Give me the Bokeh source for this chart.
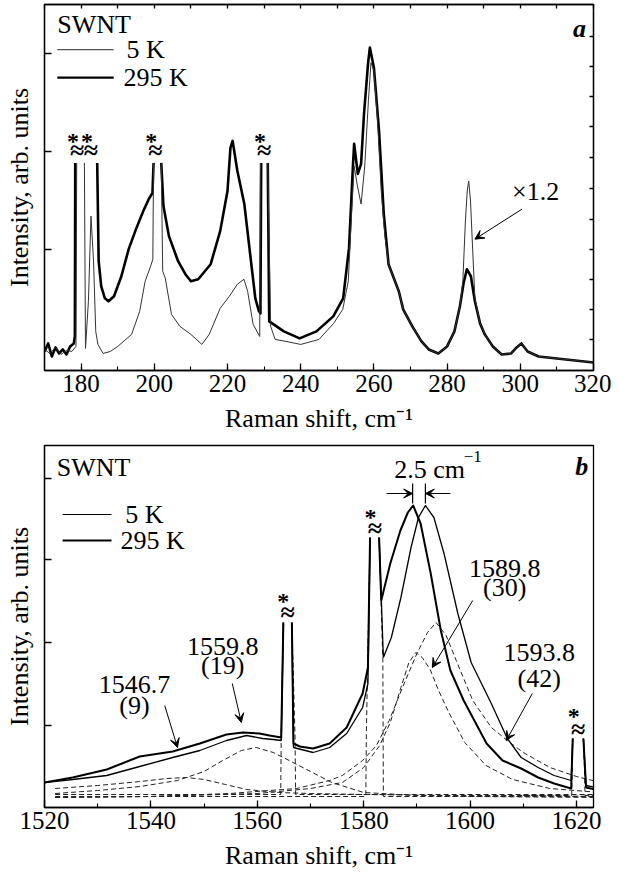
from bokeh.plotting import figure
from bokeh.models import Range1d, LinearAxis, FixedTicker, SingleIntervalTicker, Label, Arrow, VeeHead
from bokeh.layouts import column
from bokeh.embed import file_html
from bokeh.resources import INLINE

nan = float("nan")
FONT = "Liberation Serif"

# ---------------- Panel a : RBM region (arb. units) ----------------
a_x_295 = [170.0, 171.0, 172.0, 173.0, 174.0, 175.0, 176.0, 177.0, 178.0, 178.3, 178.4, nan,
           184.4, 184.8, 185.5, 186.5, 187.5, 189.0, 191.0, 193.0, 195.0, 197.0, 198.5, 199.5, 199.8, nan,
           201.9, 202.5, 204.0, 206.5, 208.5, 210.0, 212.0, 215.4, 218.0, 220.0, 220.8, 221.4, 222.7,
           224.6, 226.0, 227.6, 228.6, 229.0, 229.2, nan,
           231.0, 231.4, 235.4, 239.7, 244.3, 248.9, 251.6, 253.2, 254.3, 254.6, 255.6, 256.5, 257.3,
           258.4, 258.9, 260.0, 261.4, 262.7, 264.0, 266.8, 268.0, 270.5, 273.0, 275.0, 277.6, 280.0,
           282.0, 283.5, 284.5, 285.4, 286.5, 287.6, 289.0, 290.3, 292.5, 294.9, 297.5, 299.0, 300.3,
           302.0, 305.0, 310.0, 315.0, 320.0]
a_y_295 = [20, 28, 15, 24, 18, 22, 17, 25, 28, 35, 208, nan,
           208, 110, 85, 73, 70, 75, 95, 122, 142, 160, 172, 178, 208, nan,
           208, 165, 135, 110, 97, 90, 92, 107, 140, 180, 223, 230, 200,
           167, 123, 73, 60, 58, 208, nan,
           208, 50, 40, 33, 40, 55, 73, 123, 207, 227, 197, 207, 257,
           307, 323, 303, 240, 157, 107, 80, 62, 45, 30, 22, 18, 25,
           40, 65, 88, 102, 95, 70, 48, 37, 25, 17, 18, 24, 28,
           20, 15, 13, 11, 9]

a_x_5 = [170.0, 171.5, 173.0, 174.5, 176.0, 177.5, 178.6, 178.8, nan,
         180.9, 181.2, 182.0, 182.7, 183.4, 184.0, 184.6, 186.0, 188.0, 190.0, 193.8, 196.0, 197.5,
         199.0, 199.6, 199.8, nan,
         201.9, 202.3, 203.0, 204.7, 207.0, 210.0, 213.0, 215.0, 218.0, 220.5, 222.7, 224.5, 225.5,
         227.0, 228.8, 229.0, nan,
         231.0, 231.8, 233.0, 236.0, 240.0, 245.0, 249.0, 251.5, 253.0, 253.8, 254.6, 255.5, 256.5,
         257.5, 258.5, 259.2, 260.0, 261.0, 262.0, 263.0, 264.0, 266.8, 268.0, 270.5, 273.0, 275.0,
         277.6, 280.0, 282.0, 283.5, 284.3, 285.0, 285.5, 285.9, 286.4, 287.0, 287.6, 289.0, 290.3,
         292.5, 294.9, 297.5, 299.0, 300.3, 302.0, 305.0, 310.0, 315.0, 320.0]
a_y_5 = [22, 18, 24, 17, 21, 20, 25, 208, nan,
         208, 23, 70, 155, 110, 40, 27, 18, 20, 25, 37, 60, 90,
         105, 112, 208, nan,
         208, 100, 93, 57, 45, 37, 27, 37, 63, 75, 87, 92, 80,
         47, 35, 208, nan,
         208, 45, 32, 30, 27, 32, 48, 62, 90, 150, 205, 185, 167,
         205, 270, 308, 300, 250, 180, 135, 107, 80, 62, 45, 30, 22,
         18, 25, 40, 65, 90, 150, 180, 190, 170, 120, 73, 48, 37,
         25, 17, 18, 24, 28, 20, 15, 13, 11, 9]

a_left_ticks = [122, 219, 317]
a_right_ticks = [32, 62, 92, 122, 152, 183, 213, 244, 274, 304, 334]
a_break_x = [178.9, 182.7, 200.3, 230.0]
a_star_x = [177.8, 181.6, 199.2, 228.9]
a_approx_y = 220
a_star_y = 230

# ---------------- Panel b : G band region ----------------
b_x_295 = [1520.0, 1525.3, 1531.7, 1537.9, 1544.1, 1549.2, 1554.2, 1557.3, 1560.4, 1562.3, 1564.5,
           1564.9, nan, 1566.5, 1566.8, 1568.0, 1570.5, 1573.6, 1576.8, 1579.8, 1580.8, 1581.2, nan,
           1582.9, 1583.3, 1585.0, 1586.9, 1588.3, 1589.3, 1590.7, 1592.6, 1594.5, 1596.3, 1598.8,
           1600.5, 1603.1, 1606.1, 1609.6, 1612.8, 1615.8, 1619.0, 1619.3, nan, 1621.3, 1621.8, 1624.5]
b_y_295 = [25, 30, 38, 51, 56, 64, 73, 75, 74, 72, 70,
           185, nan, 185, 64, 61, 59, 64, 80, 114, 140, 270, nan,
           270, 207, 244, 277, 295, 302, 284, 234, 177, 137, 107,
           90, 64, 47, 39, 30, 24, 19, 69, nan, 69, 20, 17]

b_x_5 = [1520.0, 1525.3, 1531.7, 1537.9, 1544.1, 1549.2, 1554.2, 1558.0, 1561.0, 1563.0, 1564.5,
         1564.9, nan, 1566.5, 1566.8, 1570.5, 1573.6, 1576.8, 1579.8, 1580.8, 1581.2, nan,
         1582.9, 1583.7, 1585.2, 1587.0, 1588.9, 1590.3, 1591.6, 1593.2, 1595.1, 1597.7, 1600.2,
         1603.9, 1607.0, 1609.6, 1612.8, 1615.8, 1619.0, 1619.3, nan, 1621.3, 1621.8, 1624.5]
b_y_5 = [25, 28, 32, 41, 50, 57, 67, 72, 69, 68, 67,
         185, nan, 185, 60, 55, 60, 74, 100, 124, 270, nan,
         270, 150, 170, 210, 260, 290, 302, 290, 254, 194, 145,
         105, 69, 50, 40, 32, 27, 69, nan, 69, 22, 19]

# fitted components (dashed)
fitA_x = [1522, 1530, 1538, 1543, 1546.7, 1550, 1554, 1558, 1564, 1570, 1580, 1595, 1610, 1624.5]
fitA_y = [19, 22, 26, 29, 30, 28, 23, 18, 15, 14, 13, 12, 12, 11]
fitB_x = [1522, 1530, 1538, 1545, 1550, 1553.5, 1557, 1559.8, 1563, 1566, 1570, 1574, 1580, 1590, 1600, 1624.5]
fitB_y = [14, 17, 21, 27, 36, 47, 57, 60, 55, 47, 36, 25, 15, 12, 11, 10]
fitC_x = [1522, 1540, 1560, 1570, 1576, 1580, 1583, 1585, 1587, 1588.5, 1589.8, 1591, 1592.5, 1594,
          1596, 1599, 1603, 1608, 1615, 1624.5]
fitC_y = [10, 11, 14, 19, 25, 40, 62, 85, 120, 145, 155, 150, 138, 118, 95, 65, 42, 28, 19, 15]
fitD_x = [1522, 1540, 1554.8, 1567.4, 1573.6, 1576, 1579.8, 1582.4, 1584.8, 1587.3, 1590, 1592, 1593.6,
          1595.5, 1597.4, 1600.5, 1604, 1607, 1610, 1615, 1620, 1624.5]
fitD_y = [10, 11, 14, 19, 27, 32, 47, 62, 87, 120, 154, 175, 185, 172, 147, 107, 80, 67, 55, 40, 31, 25]
fitS1_x = [1522, 1564.4, 1564.5, 1564.9, nan, 1566.5, 1567.1, 1567.2, 1624.5]
fitS1_y = [13, 13, 70, 185, nan, 185, 70, 13, 13]
fitS2_x = [1522, 1580.4, 1580.5, 1581.2, nan, 1582.9, 1583.6, 1583.7, 1624.5]
fitS2_y = [11, 11, 74, 270, nan, 270, 147, 11, 11]
fitS3_x = [1610, 1619.1, 1619.2, 1619.3, nan, 1621.3, 1621.5, 1621.6, 1624.5]
fitS3_y = [12, 12, 40, 69, nan, 69, 40, 12, 12]

b_left_ticks = [82, 165, 248, 329]
b_break_x = [1565.7, 1582.1, 1620.3]
b_star_x = [1564.9, 1581.3, 1619.5]
b_approx_y = [195, 279, 78]
b_star_y = [207, 291, 92]

# peak labels: (text line 1, text line 2, x, y1, y2, arrow x0, y0, x1, y1)
b_peak_labels = [
    ("1546.7", "(9)", 1536.9, 123, 102, 1542.6, 102, 1545.0, 60),
    ("1559.8", "(19)", 1553.5, 161, 142, 1555.3, 124, 1557.0, 85),
    ("1589.8", "(30)", 1606.5, 239, 220, 1600.5, 207, 1592.9, 140),
    ("1593.8", "(42)", 1613.0, 155, 129, 1611.7, 114, 1606.8, 67),
]


def style_axis(ax, ticker, tick_in, minor_in=0, labels=True, label=None, label_standoff=9):
    ax.ticker = ticker
    ax.major_tick_in = tick_in
    ax.major_tick_out = 0
    ax.minor_tick_in = minor_in
    ax.minor_tick_out = 0
    ax.axis_line_color = "black"
    ax.axis_line_width = 1.3
    ax.major_tick_line_color = "black"
    ax.major_tick_line_width = 1.3
    ax.minor_tick_line_color = "black"
    ax.minor_tick_line_width = 1.1
    ax.major_label_text_line_height = 1.0
    ax.axis_label_text_line_height = 1.0
    if labels:
        ax.major_label_text_font = FONT
        ax.major_label_text_font_size = "25px"
        ax.major_label_text_color = "black"
        ax.major_label_standoff = 4
    else:
        ax.major_label_text_font_size = "0px"
        ax.major_label_text_color = None
        ax.major_label_standoff = 0
    if label:
        ax.axis_label = label
        ax.axis_label_text_font = FONT
        ax.axis_label_text_font_size = "26px"
        ax.axis_label_text_font_style = "normal"
        ax.axis_label_text_color = "black"
        ax.axis_label_standoff = label_standoff


def make_fig(x0, x1, y0, y1, height, top, bottom):
    p = figure(width=611, height=height, x_range=Range1d(x0, x1), y_range=Range1d(y0, y1),
               output_backend="svg", toolbar_location=None,
               min_border_left=44, min_border_right=18, min_border_top=top, min_border_bottom=bottom)
    p.grid.visible = False
    p.outline_line_color = "black"
    p.outline_line_width = 1.3
    p.background_fill_color = "white"
    p.border_fill_color = "white"
    return p


def txt(p, x, y, s, size="26px", style="normal", align="center", baseline="middle"):
    p.add_layout(Label(x=x, y=y, text=s, text_font=FONT, text_font_size=size,
                       text_font_style=style, text_align=align, text_baseline=baseline,
                       text_color="black"))


def arrow(p, x0, y0, x1, y1):
    p.add_layout(Arrow(end=VeeHead(size=9, fill_color="black", line_color="black", line_width=1),
                       x_start=x0, y_start=y0, x_end=x1, y_end=y1,
                       line_width=1, line_color="black"))


# ---------------- build panel a ----------------
pa = make_fig(170, 320, 1, 366, 436, 4, 66)
style_axis(pa.xaxis[0], SingleIntervalTicker(interval=20, num_minor_ticks=2), 7, 4,
           label="Raman shift, cm\u207b\u00b9")
style_axis(pa.yaxis[0], FixedTicker(ticks=a_left_ticks), 7, labels=False,
           label="Intensity, arb. units", label_standoff=11)
ax_top = LinearAxis()
style_axis(ax_top, SingleIntervalTicker(interval=10, num_minor_ticks=0), 4, labels=False)
pa.add_layout(ax_top, "above")
ax_right = LinearAxis()
style_axis(ax_right, FixedTicker(ticks=a_right_ticks), 4, labels=False)
pa.add_layout(ax_right, "right")

pa.line(a_x_295, a_y_295, line_color="black", line_width=2.6, line_join="round")
pa.line(a_x_5, a_y_5, line_color="#333333", line_width=1.0)

txt(pa, 173.5, 346, "SWNT", align="left")
pa.segment(x0=[173.5], y0=[321], x1=[188.9], y1=[321], line_color="#555555", line_width=1.2)
pa.segment(x0=[173.5], y0=[293], x1=[188.9], y1=[293], line_color="black", line_width=2.2)
txt(pa, 192.4, 321, "5 K", align="left")
txt(pa, 191.6, 293, "295 K", align="left")
txt(pa, 316.2, 342, "a", style="bold italic")
txt(pa, 304.2, 180, "\u00d71.2")
arrow(pa, 300.5, 162, 287.6, 132)
for bx, sx in zip(a_break_x, a_star_x):
    txt(pa, bx, a_approx_y, "\u2248", size="26px", style="bold")
    txt(pa, sx, a_star_y, "*", size="24px", style="bold")

# ---------------- build panel b ----------------
pb = make_fig(1520, 1623.2, 0, 362, 437, 9, 66)
style_axis(pb.xaxis[0], SingleIntervalTicker(interval=20, num_minor_ticks=2), 7, 4,
           label="Raman shift, cm\u207b\u00b9")
style_axis(pb.yaxis[0], FixedTicker(ticks=b_left_ticks), 7, labels=False,
           label="Intensity, arb. units", label_standoff=11)

dash = "5 3"
for fx, fy in [(fitA_x, fitA_y), (fitB_x, fitB_y), (fitC_x, fitC_y), (fitD_x, fitD_y),
               (fitS1_x, fitS1_y), (fitS2_x, fitS2_y), (fitS3_x, fitS3_y)]:
    pb.line(fx, fy, line_color="#222222", line_width=1.0, line_dash=dash)
pb.line(b_x_5, b_y_5, line_color="black", line_width=1.3)
pb.line(b_x_295, b_y_295, line_color="black", line_width=2.0, line_join="round")

txt(pb, 1522.3, 340, "SWNT", align="left")
pb.segment(x0=[1523.4], y0=[293], x1=[1532.6], y1=[293], line_color="black", line_width=1.0)
pb.segment(x0=[1523.4], y0=[267], x1=[1532.6], y1=[267], line_color="black", line_width=1.8)
txt(pb, 1535.2, 293, "5 K", align="left")
txt(pb, 1534.3, 267, "295 K", align="left")
txt(pb, 1621.0, 341, "b", style="bold italic")

for t1, t2, lx, ly1, ly2, ax0, ay0, ax1, ay1 in b_peak_labels:
    txt(pb, lx, ly1, t1)
    txt(pb, lx, ly2, t2)
    arrow(pb, ax0, ay0, ax1, ay1)

for bx, sx, ay, sy in zip(b_break_x, b_star_x, b_approx_y, b_star_y):
    txt(pb, bx, ay, "\u2248", size="26px", style="bold")
    txt(pb, sx, sy, "*", size="24px", style="bold")

# 2.5 cm-1 splitting marker
pb.segment(x0=[1589.2, 1591.6], y0=[304, 304], x1=[1589.2, 1591.6], y1=[324, 324],
           line_color="black", line_width=1.2)
arrow(pb, 1584.3, 314, 1589.2, 314)
arrow(pb, 1596.3, 314, 1591.6, 314)
txt(pb, 1592.4, 338, "2.5 cm")
txt(pb, 1598.8, 351, "\u22121", size="17px", align="left")

layout = column(pa, pb)
open("out.html", "w").write(file_html(layout, INLINE))
